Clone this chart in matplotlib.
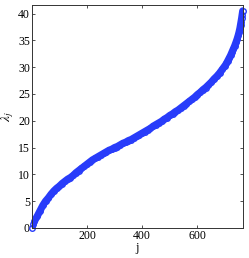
import matplotlib.pyplot as plt
import numpy as np

plt.rcParams['font.family'] = 'Liberation Serif'
plt.rcParams['mathtext.fontset'] = 'stix'

# values (eigenvalue index j -> lambda_j)
j = [1, 5, 10, 20, 30, 40, 50, 60, 70, 80, 90, 100, 110, 120, 130, 140, 150,
     160, 170, 180, 190, 200, 210, 220, 230, 240, 250, 260, 270, 280, 290, 300,
     310, 320, 330, 340, 350, 360, 370, 380, 390, 400, 410, 420, 430, 440, 450,
     460, 470, 480, 490, 500, 510, 520, 530, 540, 550, 560, 570, 580, 590, 600,
     610, 620, 630, 640, 650, 660, 670, 680, 690, 700, 705, 710, 715, 720, 725,
     730, 735, 740, 744, 748, 751, 754, 756, 758, 760, 762, 764]
lam = [0.0, 0.7, 1.3, 2.2, 3.2, 4.2, 5.0, 5.6, 6.3, 6.9, 7.4, 7.8, 8.3, 8.7,
       9.1, 9.4, 9.8, 10.3, 10.7, 11.1, 11.5, 11.9, 12.3, 12.7, 13.0, 13.3,
       13.6, 13.9, 14.2, 14.5, 14.7, 15.0, 15.2, 15.5, 15.8, 16.0, 16.3, 16.5,
       16.8, 17.1, 17.4, 17.7, 18.0, 18.3, 18.6, 19.0, 19.3, 19.6, 19.9, 20.3,
       20.6, 21.0, 21.3, 21.7, 22.0, 22.4, 22.8, 23.2, 23.6, 24.0, 24.4, 24.9,
       25.3, 25.8, 26.2, 26.7, 27.2, 27.8, 28.3, 28.9, 29.6, 30.3, 30.7, 31.2,
       31.7, 32.2, 32.8, 33.4, 34.0, 34.7, 35.3, 36.0, 36.6, 37.3, 37.9, 38.5,
       39.1, 39.8, 40.5]

xticks = [200, 400, 600]
yticks = [0, 5, 10, 15, 20, 25, 30, 35, 40]

fig = plt.figure(figsize=(2.49, 2.58), dpi=100)
ax = fig.add_axes([0.1285, 0.1163, 0.8475, 0.8643])

ax.plot(j, lam, 'o', color='#283cfa', mfc='none', ms=4.0, mew=1.0, clip_on=False)
ax.plot(j, lam, '-', color='#283cfa', lw=5.2, solid_capstyle='round')

ax.set_xlim(1, 765)
ax.set_ylim(0, 41.6)
ax.set_xticks(xticks)
ax.set_yticks(yticks)
ax.tick_params(direction='in', length=2.5, width=0.6, top=True, right=True,
               labelsize=8.5, pad=1.5, colors='#333333', labelcolor='black')
for s in ax.spines.values():
    s.set_linewidth(0.7)
    s.set_color('#333333')

ax.set_xlabel('j', fontsize=9, labelpad=0)
ax.set_ylabel(r'$\lambda_j$', fontsize=9.5, labelpad=1.5)

fig.savefig('out.png', dpi=100)
